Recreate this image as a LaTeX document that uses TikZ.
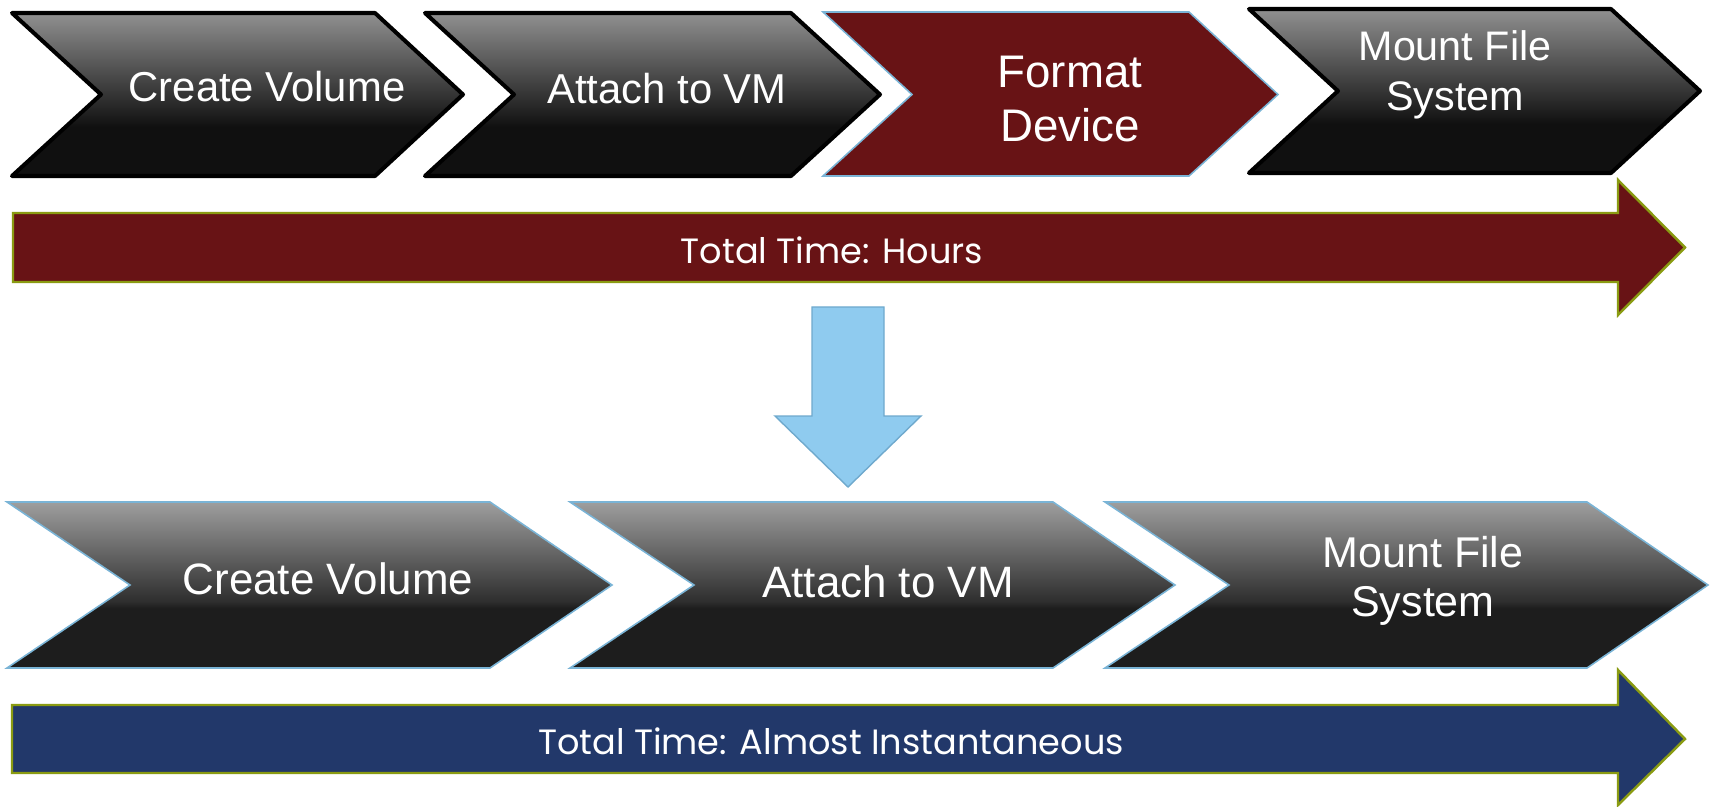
\documentclass[tikz,border=0pt]{standalone}
\usepackage{fontspec}
\setmainfont{Liberation Sans}
\newfontfamily\gothfont{Poppins}
\usepackage{tikz}
\definecolor{VLRed}{HTML}{681315}
\definecolor{VLNavy}{HTML}{22386A}
\definecolor{VLSky}{HTML}{8FCBEF}
\definecolor{VLSkyEdge}{HTML}{6FA9CD}
\definecolor{VLOlive}{HTML}{8A9B12}
\definecolor{VLEdge}{HTML}{7AB4D6}
\definecolor{VLDark}{HTML}{101010}
\definecolor{VLGray}{HTML}{909090}
\definecolor{VLDarkB}{HTML}{1D1D1D}
\definecolor{VLMidB}{HTML}{2E2E2E}
\definecolor{VLGrayB}{HTML}{9E9E9E}
\pgfdeclareverticalshading{VLChevTop}{100bp}{color(0bp)=(VLDark); color(40bp)=(VLDark); color(75bp)=(VLGray); color(100bp)=(VLGray)}
\pgfdeclareverticalshading{VLChevBot}{100bp}{color(0bp)=(VLDarkB); color(43bp)=(VLDarkB); color(45bp)=(VLMidB); color(75bp)=(VLGrayB); color(100bp)=(VLGrayB)}

\begin{document}
\begin{tikzpicture}[x=0.02cm,y=0.02cm,
  chevblack/.style={draw=black,line width=2.3pt,line join=round,shading=VLChevTop},
  chevred/.style={draw=VLEdge,line width=0.9pt,fill=VLRed},
  chevflat/.style={draw=VLEdge,line width=0.9pt,shading=VLChevBot},
  bigarrow/.style={draw=VLOlive,line width=1.4pt},
  steptext/.style={text=white,align=center,inner sep=0pt},
  timetext/.style={text=white,inner sep=0pt,font=\gothfont\fontsize{20}{24}\selectfont}]
\path[use as bounding box] (0,0) rectangle (1712,806);
% before: four steps
\shadedraw[chevblack] (12,793) -- (375,793) -- (463,711.5) -- (375,630) -- (12,630) -- (101,711.5) -- cycle;
\node[steptext,font=\fontsize{23.8}{31}\selectfont] (oldcreate) at (267,719) {Create Volume};
\shadedraw[chevblack] (425,793) -- (791,793) -- (880,711.5) -- (791,630) -- (425,630) -- (514,711.5) -- cycle;
\node[steptext,font=\fontsize{23.8}{31}\selectfont] (oldattach) at (667,717) {Attach to VM};
\filldraw[chevred] (823,794) -- (1189,794) -- (1278,711.5) -- (1189,630) -- (823,630) -- (912,711.5) -- cycle;
\node[steptext,font=\fontsize{26}{31}\selectfont] (oldformat) at (1070,707) {Format\\Device};
\shadedraw[chevblack] (1249,797) -- (1611,797) -- (1700,715) -- (1611,633) -- (1249,633) -- (1338,715) -- cycle;
\node[steptext,font=\fontsize{23.5}{28.3}\selectfont] (oldmount) at (1455,731) {Mount File\\System};
\filldraw[bigarrow,fill=VLRed] (13,593) -- (1618,593) -- (1618,626) -- (1685,558.5) -- (1618,491) -- (1618,524) -- (13,524) -- cycle;
\node[timetext] (oldtime) at (832,556) {Total Time: Hours};
% change
\filldraw[draw=VLSkyEdge,line width=0.8pt,fill=VLSky] (812,499) -- (884,499) -- (884,390) -- (921,390) -- (848,319) -- (775,390) -- (812,390) -- cycle;
% after: three steps
\shadedraw[chevflat] (7,304) -- (490,304) -- (612,221) -- (490,138) -- (7,138) -- (130,221) -- cycle;
\node[steptext,font=\fontsize{25}{28.3}\selectfont] (newcreate) at (328,227) {Create Volume};
\shadedraw[chevflat] (570,304) -- (1053,304) -- (1175,221) -- (1053,138) -- (570,138) -- (694,221) -- cycle;
\node[steptext,font=\fontsize{25}{28.3}\selectfont] (newattach) at (888,224) {Attach to VM};
\shadedraw[chevflat] (1105,304) -- (1587,304) -- (1708,221) -- (1587,138) -- (1105,138) -- (1229,221) -- cycle;
\node[steptext,font=\fontsize{24.5}{28.3}\selectfont] (newmount) at (1423,225) {Mount File\\System};
\filldraw[bigarrow,fill=VLNavy] (12,101) -- (1618,101) -- (1618,136) -- (1685,67) -- (1618,1) -- (1618,33) -- (12,33) -- cycle;
\node[timetext] (newtime) at (831,65) {Total Time: Almost Instantaneous};
\end{tikzpicture}
\end{document}
